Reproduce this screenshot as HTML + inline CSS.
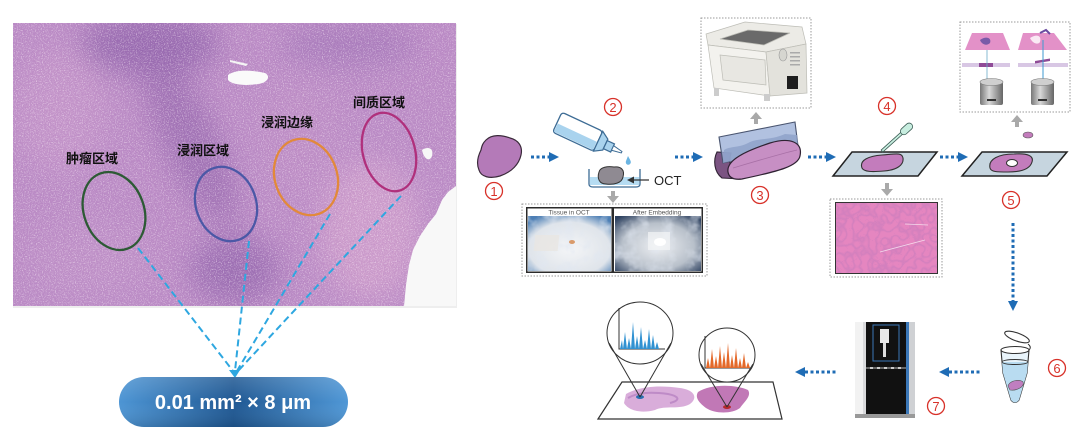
<!DOCTYPE html>
<html><head><meta charset="utf-8"><style>
html,body{margin:0;padding:0;background:#fff;width:1080px;height:429px;overflow:hidden}
svg{display:block}
.cn{font-family:"Liberation Sans","Noto Sans CJK SC",sans-serif;font-weight:bold;font-size:13px;fill:#111}
.num{font-family:"Liberation Sans",sans-serif;font-size:13px;fill:#d8322a;text-anchor:middle}
</style></head><body>
<svg width="1080" height="429" viewBox="0 0 1080 429" xmlns="http://www.w3.org/2000/svg">
<defs>
 <filter id="nW" x="0" y="0" width="100%" height="100%">
  <feTurbulence type="fractalNoise" baseFrequency="0.85" numOctaves="2" seed="4"/>
  <feColorMatrix type="matrix" values="0 0 0 0 1  0 0 0 0 0.9  0 0 0 0 0.98  3.2 0 0 0 -1.6"/>
 </filter>
 <filter id="nD" x="0" y="0" width="100%" height="100%">
  <feTurbulence type="fractalNoise" baseFrequency="0.9" numOctaves="2" seed="9"/>
  <feColorMatrix type="matrix" values="0 0 0 0 0.45  0 0 0 0 0.22  0 0 0 0 0.55  3 0 0 0 -1.45"/>
 </filter>
 <filter id="cells" x="0" y="0" width="100%" height="100%">
  <feTurbulence type="turbulence" baseFrequency="0.13" numOctaves="1" seed="2"/>
  <feColorMatrix type="matrix" values="0 0 0 0 0.55  0 0 0 0 0.2  0 0 0 0 0.5  -4 0 0 0 0.9"/>
 </filter>
 <filter id="snow" x="0" y="0" width="100%" height="100%">
  <feTurbulence type="fractalNoise" baseFrequency="0.08" numOctaves="3" seed="5"/>
  <feColorMatrix type="matrix" values="0 0 0 0 0.75  0 0 0 0 0.8  0 0 0 0 0.88  2.5 0 0 0 -1.1"/>
 </filter>
 <filter id="bl"><feGaussianBlur stdDeviation="14"/></filter>
 <linearGradient id="pillG" x1="0" y1="0" x2="1" y2="0">
  <stop offset="0" stop-color="#4d95d4"/><stop offset="0.5" stop-color="#1f5893"/><stop offset="1" stop-color="#4f97d6"/>
 </linearGradient>
 <linearGradient id="pillV" x1="0" y1="0" x2="0" y2="1">
  <stop offset="0" stop-color="#fff" stop-opacity="0.15"/><stop offset="0.5" stop-color="#fff" stop-opacity="0"/><stop offset="1" stop-color="#000" stop-opacity="0.12"/>
 </linearGradient>
 <radialGradient id="ph1" cx="0.5" cy="0.6" r="0.7">
  <stop offset="0" stop-color="#f4f5f7"/><stop offset="0.7" stop-color="#dfe4ea"/><stop offset="1" stop-color="#4d7fb5"/>
 </radialGradient>
 <radialGradient id="ph2" cx="0.5" cy="0.55" r="0.7">
  <stop offset="0" stop-color="#eef0f3"/><stop offset="0.6" stop-color="#b8c0ca"/><stop offset="1" stop-color="#2b3f5e"/>
 </radialGradient>
 <linearGradient id="cyl" x1="0" y1="0" x2="1" y2="0">
  <stop offset="0" stop-color="#777"/><stop offset="0.4" stop-color="#d8d8d8"/><stop offset="1" stop-color="#666"/>
 </linearGradient>
 <clipPath id="histo"><rect x="13" y="23" width="443" height="283"/></clipPath>
 <clipPath id="ph4"><rect x="836" y="203" width="101" height="70"/></clipPath>
</defs>

<!-- ================= LEFT: histology ================= -->
<rect x="13" y="24" width="444" height="284" fill="#ddd" opacity="0.5"/>
<g clip-path="url(#histo)">
 <rect x="13" y="23" width="443" height="283" fill="#bb8cc5"/>
 <g filter="url(#bl)">
  <ellipse cx="150" cy="45" rx="70" ry="30" fill="#8e62aa" opacity="0.8"/>
  <ellipse cx="190" cy="140" rx="28" ry="95" fill="#9466ad" opacity="0.7" transform="rotate(-25 190 140)"/>
  <ellipse cx="235" cy="270" rx="45" ry="35" fill="#8f62aa" opacity="0.7"/>
  <ellipse cx="350" cy="45" rx="70" ry="22" fill="#9c72b4" opacity="0.6"/>
  <ellipse cx="370" cy="230" rx="50" ry="70" fill="#d6a5cf" opacity="0.7"/>
  <ellipse cx="60" cy="110" rx="45" ry="60" fill="#c99bcc" opacity="0.6"/>
  <ellipse cx="90" cy="260" rx="60" ry="35" fill="#c495c9" opacity="0.5"/>
  <ellipse cx="300" cy="140" rx="40" ry="60" fill="#c292c6" opacity="0.5"/>
 </g>
 <rect x="13" y="23" width="443" height="283" filter="url(#nD)" opacity="0.5"/>
 <rect x="13" y="23" width="443" height="283" filter="url(#nW)" opacity="0.55"/>
 <!-- white areas -->
 <path d="M228,75 C236,69 252,70 265,73 C271,76 268,83 258,84 C246,86 232,85 228,80 Z" fill="#fafafa"/>
 <path d="M230,60 L248,64 L246,66 L230,62 Z" fill="#f4f4f4"/>
 <path d="M422,150 C428,146 434,148 432,156 C430,162 424,160 422,150 Z" fill="#f7f7f7"/>
 <path d="M456,186 L448,192 L442,200 L436,214 L428,224 L420,236 L413,250 L409,265 L406,285 L404,306 L456,306 Z" fill="#f8f8f8"/>
</g>

<!-- labels -->
<text class="cn" x="66" y="163">肿瘤区域</text>
<text class="cn" x="177" y="155">浸润区域</text>
<text class="cn" x="261" y="127">浸润边缘</text>
<text class="cn" x="353" y="107">间质区域</text>

<!-- ellipses -->
<g fill="none" stroke-width="2.3">
 <ellipse cx="114" cy="211" rx="30" ry="40" transform="rotate(-20 114 211)" stroke="#2d5a35"/>
 <ellipse cx="226" cy="204" rx="30" ry="38" transform="rotate(-20 226 204)" stroke="#4b58a6"/>
 <ellipse cx="306" cy="177" rx="31" ry="39" transform="rotate(-20 306 177)" stroke="#e2893a"/>
 <ellipse cx="389" cy="152" rx="26" ry="40" transform="rotate(-15 389 152)" stroke="#b0307c"/>
</g>

<!-- dashed connectors -->
<g stroke="#2ea7e0" stroke-width="2" stroke-dasharray="7 4" fill="none">
 <line x1="138" y1="248" x2="233" y2="371"/>
 <line x1="249" y1="241" x2="235" y2="371"/>
 <line x1="330" y1="214" x2="237" y2="371"/>
 <line x1="401" y1="196" x2="238" y2="371"/>
</g>
<polygon points="229,370 240,370 235,378" fill="#2ea7e0"/>

<!-- pill -->
<rect x="119" y="377" width="229" height="50" rx="25" fill="url(#pillG)"/>
<rect x="119" y="377" width="229" height="50" rx="25" fill="url(#pillV)"/>
<text x="233" y="409" text-anchor="middle" font-family="Liberation Sans,sans-serif" font-weight="bold" font-size="20" fill="#fff">0.01 mm² × 8 μm</text>

<!-- ================= RIGHT: workflow ================= -->
<g stroke="#1f6cb5" stroke-width="3" stroke-dasharray="3 2.5" fill="none">
 <line x1="531" y1="157" x2="549" y2="157"/>
 <line x1="675" y1="157" x2="693" y2="157"/>
 <line x1="808" y1="157" x2="826" y2="157"/>
 <line x1="940" y1="157" x2="958" y2="157"/>
 <line x1="1013" y1="223" x2="1013" y2="301"/>
 <line x1="949" y1="372" x2="982" y2="372"/>
 <line x1="805" y1="372" x2="837" y2="372"/>
</g>
<g fill="#1f6cb5">
 <polygon points="549,152 559,157 549,162"/>
 <polygon points="693,152 703,157 693,162"/>
 <polygon points="826,152 836,157 826,162"/>
 <polygon points="958,152 968,157 958,162"/>
 <polygon points="1008,301 1013,311 1018,301"/>
 <polygon points="949,367 939,372 949,377"/>
 <polygon points="805,367 795,372 805,377"/>
</g>

<g fill="#a9a9a9">
 <polygon points="611,191 615,191 615,196 619,196 613,203 607,196 611,196"/>
 <polygon points="754,124 758,124 758,119 762,119 756,112 750,119 754,119"/>
 <polygon points="885,183 889,183 889,189 893,189 887,196 881,189 885,189"/>
 <polygon points="1015,127 1019,127 1019,122 1023,122 1017,115 1011,122 1015,122"/>
</g>

<!-- step 1 -->
<path d="M486,140 C492,134 502,135 510,138 C518,140 523,146 521,155 C519,164 512,172 500,176 C490,179 481,177 479,170 C476,163 478,156 481,150 C482,145 483,143 486,140 Z" fill="#b47ab8" stroke="#3a2a3a" stroke-width="1.2"/>

<!-- step 2 bottle -->
<g transform="translate(589,137) rotate(25)">
 <rect x="-35" y="-11" width="45" height="22" rx="3" fill="#fff" stroke="#3d6c95" stroke-width="1.3"/>
 <path d="M-34,1 L9,1 L9,10 L-34,10 Z" fill="#a9d3ee"/>
 <polygon points="10,-11 18,-6 18,6 10,11" fill="#a9d3ee" stroke="#3d6c95" stroke-width="1.2"/>
 <rect x="18" y="-4.5" width="8" height="9" fill="#a9d3ee" stroke="#3d6c95" stroke-width="1.2"/>
 <polygon points="26,-2.5 36,-0.8 36,0.8 26,2.5" fill="#fff" stroke="#3d6c95" stroke-width="1"/>
</g>
<path d="M628,156 C630,160 632,162 630,164 C628,166 625,164 626,161 Z" fill="#6ab4e2"/>
<path d="M589,169 L589,184 Q589,187 593,187 L636,187 Q640,187 640,184 L640,169" fill="none" stroke="#3d6c95" stroke-width="1.3"/>
<rect x="590" y="177" width="49" height="8" fill="#b5dcf2"/>
<path d="M599,172 C600,167 608,166 614,167 C621,166 625,170 623,177 C622,183 614,185 606,184 C599,184 597,178 599,172 Z" fill="#8f8a92" stroke="#333" stroke-width="1"/>
<line x1="632" y1="180" x2="649" y2="180" stroke="#333" stroke-width="1.2"/>
<polygon points="627,180 634,176.5 634,183.5" fill="#333"/>
<text x="654" y="185" font-family="Liberation Sans,sans-serif" font-size="13" fill="#222">OCT</text>

<!-- photo box step 2 -->
<rect x="522" y="204" width="185" height="72" fill="#fff" stroke="#999" stroke-dasharray="1.5 1.5"/>
<rect x="526" y="207" width="177" height="66" fill="#2b2b2b"/>
<rect x="527.5" y="208.5" width="84" height="63" fill="#fff"/>
<rect x="614" y="208.5" width="87.5" height="63" fill="#fff"/>
<rect x="528" y="216" width="83" height="55" fill="url(#ph1)"/>
<rect x="528" y="216" width="83" height="55" filter="url(#snow)" opacity="0.7"/>
<rect x="560" y="235" width="24" height="16" fill="#e8e6e2" opacity="0.8" transform="skewX(-6)"/>
<ellipse cx="572" cy="242" rx="3" ry="2" fill="#d99a6a"/>
<rect x="615" y="216" width="86" height="55" fill="url(#ph2)"/>
<rect x="615" y="216" width="86" height="55" filter="url(#snow)" opacity="0.6"/>
<rect x="648" y="232" width="22" height="18" fill="#f3f5f7" opacity="0.7"/>
<ellipse cx="660" cy="242" rx="6" ry="4" fill="#fff"/>
<text x="569" y="214.5" text-anchor="middle" font-family="Liberation Sans,sans-serif" font-size="6.5" fill="#555">Tissue in OCT</text>
<text x="657" y="214.5" text-anchor="middle" font-family="Liberation Sans,sans-serif" font-size="6.5" fill="#555">After Embedding</text>

<!-- step 3 microtome -->
<rect x="701" y="18" width="110" height="90" fill="#fff" stroke="#999" stroke-dasharray="1.5 1.5"/>
<g stroke="#bdbdb6" stroke-width="0.7">
 <polygon points="706,34 745,22 802,27 806,44 766,52 708,45" fill="#ecebe6"/>
 <polygon points="720,39 748,30 790,33 764,45" fill="#6a6a6a"/>
 <polygon points="708,45 766,52 770,96 714,88" fill="#f3f2ee"/>
 <polygon points="766,52 806,44 807,93 770,96" fill="#e3e2dc"/>
 <polygon points="720,55 765,60 766,85 723,80" fill="#e8e7e2"/>
</g>
<rect x="787" y="76" width="11" height="13" fill="#1e1e1e"/>
<ellipse cx="783" cy="55" rx="4" ry="6" fill="#d6d6d0" stroke="#999" stroke-width="0.6"/>
<g fill="#aaa"><rect x="790" y="52" width="10" height="1.5"/><rect x="790" y="56" width="10" height="1.5"/><rect x="790" y="60" width="10" height="1.5"/><rect x="790" y="64" width="10" height="1.5"/></g>
<rect x="714" y="88" width="5" height="8" fill="#ccc"/>
<rect x="764" y="94" width="6" height="7" fill="#ccc"/>
<!-- block 3 -->
<path d="M717,152 C713,160 714,172 722,178 L741,179 C731,174 728,164 731,153 Z" fill="#7b5482" stroke="#2f2233" stroke-width="1.1"/>
<polygon points="719,137 795,122 798,146 723,163" fill="#9db2d8" fill-opacity="0.8" stroke="#4a5570" stroke-width="1.1"/>
<path d="M724,150 C730,146 740,148 750,142 C760,138 772,140 785,134 L797,135 L798,146 L723,163 Z" fill="#8da0c8" opacity="0.8"/>
<path d="M728,172 C726,160 746,151 770,143 C790,137 803,142 800,156 C798,166 780,171 742,179 C734,180 729,178 728,172 Z" fill="#c78fc4" stroke="#2f2233" stroke-width="1.2"/>
<path d="M733,168 C760,160 780,154 797,150" fill="none" stroke="#a870a6" stroke-width="0.8"/>

<!-- step 4 -->
<polygon points="833,176 852,152 937,152 918,176" fill="#c6d5df" stroke="#222" stroke-width="1.5"/>
<path d="M862,168 C859,160 869,156 882,155 C895,154 902,152 903,158 C904,165 897,170 884,171 C872,172 864,172 862,168 Z" fill="#c37cbc" stroke="#333" stroke-width="1.1"/>
<g transform="translate(882,151) rotate(-42)">
 <rect x="0" y="-1.3" width="28" height="2.6" fill="#c8eee0" stroke="#3c5d55" stroke-width="0.8"/>
 <rect x="26" y="-3.5" width="14" height="7" rx="3.5" fill="#c8eee0" stroke="#3c5d55" stroke-width="0.8"/>
</g>
<rect x="830" y="199" width="112" height="78" fill="#fff" stroke="#999" stroke-dasharray="1.5 1.5"/>
<rect x="835" y="202" width="103" height="72" fill="#333"/>
<g clip-path="url(#ph4)">
 <rect x="836" y="203" width="101" height="70" fill="#e586c0"/>
 <rect x="836" y="203" width="101" height="70" filter="url(#cells)" opacity="0.6"/>
 <line x1="880" y1="252" x2="925" y2="240" stroke="#fff" stroke-width="0.8" opacity="0.7"/>
 <line x1="905" y1="224" x2="928" y2="225" stroke="#fff" stroke-width="0.8" opacity="0.7"/>
</g>

<!-- step 5 -->
<polygon points="962,176 982,152 1067,152 1047,176" fill="#c6d5df" stroke="#222" stroke-width="1.5"/>
<path d="M990,168 C988,159 999,154 1014,154 C1028,153 1034,156 1032,162 C1030,169 1022,172 1008,172 C997,172 991,172 990,168 Z" fill="#c37cbc" stroke="#333" stroke-width="1.1"/>
<ellipse cx="1012" cy="163" rx="5.5" ry="3.5" fill="#fff" stroke="#333" stroke-width="1"/>
<ellipse cx="1028" cy="135" rx="5" ry="3" fill="#c37cbc" stroke="#555" stroke-width="0.6"/>
<rect x="960" y="22" width="110" height="90" fill="#fff" stroke="#999" stroke-dasharray="1.5 1.5"/>
<polygon points="972,33 1003,33 1010,50 965,50" fill="#e391c8"/>
<polygon points="1023,33 1054,33 1067,50 1018,50" fill="#e391c8"/>
<path d="M980,40 C985,36 992,37 990,43 C987,46 982,45 980,40 Z" fill="#7a5aa8"/>
<path d="M1030,38 C1036,34 1042,35 1040,42 C1038,45 1033,44 1030,38 Z" fill="#fff" opacity="0.8"/>
<path d="M1040,33 L1046,30 L1050,34" fill="none" stroke="#6a4aa0" stroke-width="2"/>
<rect x="962" y="63" width="48" height="4" fill="#d8c7e4"/>
<rect x="979" y="63" width="14" height="4" fill="#8f4b97"/>
<rect x="1018" y="63" width="50" height="4" fill="#d8c7e4"/>
<polygon points="1035,61 1050,58.5 1050,61 1035,63.5" fill="#8f4b97"/>
<line x1="987" y1="50" x2="987" y2="80" stroke="#6aaac8" stroke-width="0.8"/>
<line x1="1043" y1="40" x2="1043" y2="80" stroke="#3e9ad0" stroke-width="1"/>
<rect x="980" y="82" width="23" height="23" rx="2" fill="url(#cyl)"/>
<ellipse cx="991.5" cy="82" rx="11.5" ry="3.5" fill="#cfcfcf" stroke="#777" stroke-width="0.6"/>
<rect x="1031" y="82" width="23" height="23" rx="2" fill="url(#cyl)"/>
<ellipse cx="1042.5" cy="82" rx="11.5" ry="3.5" fill="#cfcfcf" stroke="#777" stroke-width="0.6"/>
<rect x="987" y="99" width="9" height="2" fill="#333"/>
<rect x="1038" y="99" width="9" height="2" fill="#333"/>

<!-- step 6 tube -->
<path d="M1001,350 L1003,373 L1011,400 Q1015,405 1019,400 L1027,373 L1029,350 Z" fill="#e9f4fb" stroke="#333" stroke-width="1.1"/>
<path d="M1002,362 L1003,373 L1011,400 Q1015,405 1019,400 L1027,373 L1028,362 Z" fill="#b9dcf1"/>
<ellipse cx="1015" cy="362" rx="13" ry="2.5" fill="none" stroke="#333" stroke-width="0.9"/>
<path d="M1008,386 C1010,380 1020,379 1023,382 C1025,387 1016,391 1010,390 Z" fill="#c07ec0" stroke="#555" stroke-width="0.6"/>
<ellipse cx="1015" cy="350" rx="14" ry="3.5" fill="#fff" stroke="#333" stroke-width="1.1"/>
<ellipse cx="1017" cy="337" rx="13" ry="4" transform="rotate(20 1017 337)" fill="#fff" stroke="#333" stroke-width="1.1"/>
<path d="M1028,344 Q1032,347 1029,350" fill="none" stroke="#333" stroke-width="1"/>

<!-- step 7 mass spec -->
<rect x="855" y="322" width="60" height="96" fill="#d9dadc"/>
<rect x="855" y="322" width="8" height="96" fill="#f2f2f2"/>
<rect x="866" y="322" width="40" height="96" fill="#111"/>
<rect x="906" y="322" width="3" height="96" fill="#3c78b8"/>
<rect x="909" y="322" width="6" height="96" fill="#cfd1d4"/>
<rect x="873" y="325" width="26" height="36" fill="none" stroke="#3c78b8" stroke-width="1"/>
<rect x="880" y="329" width="9" height="14" fill="#e8e8e8"/>
<rect x="883" y="343" width="3" height="14" fill="#ddd"/>
<rect x="866" y="367" width="40" height="2" fill="#666"/>
<g fill="#ccc"><rect x="870" y="367" width="3" height="2"/><rect x="877" y="367" width="3" height="2"/><rect x="884" y="367" width="3" height="2"/><rect x="891" y="367" width="3" height="2"/><rect x="898" y="367" width="3" height="2"/></g>
<rect x="855" y="414" width="60" height="4" fill="#999"/>

<!-- result slide -->
<polygon points="598,419 622,382 773,382 782,419" fill="#fff" stroke="#333" stroke-width="1.2"/>
<path d="M626,394 C640,386 660,385 680,388 C695,390 698,398 690,404 C680,410 665,405 655,410 C640,414 628,410 624,403 Z" fill="#d5a4d6" opacity="0.9"/>
<path d="M628,398 C638,392 652,392 668,394 C678,396 682,400 670,403" fill="none" stroke="#a46ab4" stroke-width="2" opacity="0.5"/>
<path d="M698,392 C710,384 735,384 748,390 C752,396 744,402 740,408 C732,414 715,414 706,408 C698,402 695,397 698,392 Z" fill="#c178b6"/>
<ellipse cx="640" cy="397" rx="4" ry="2" fill="#2a6fb0"/>
<ellipse cx="727" cy="407" rx="4" ry="2" fill="#b5282c"/>
<g fill="#fff" stroke="#333" stroke-width="1">
 <ellipse cx="640" cy="333" rx="33" ry="31"/>
 <ellipse cx="727" cy="355" rx="28" ry="27"/>
</g>
<g stroke="#333" stroke-width="1" fill="none">
 <line x1="609" y1="343" x2="640" y2="397"/>
 <line x1="671" y1="343" x2="640" y2="397"/>
 <line x1="701" y1="364" x2="727" y2="407"/>
 <line x1="753" y1="364" x2="727" y2="407"/>
 <polyline points="619,308 619,349 665,349"/>
 <polyline points="705,336 705,368 752,368"/>
</g>
<path d="M620,349 L622,340 L623,349 L625,332 L627,349 L629,338 L631,349 L633,322 L635,349 L637,336 L639,349 L641,327 L643,349 L645,340 L647,349 L649,329 L651,349 L653,335 L655,349 L657,342 L659,349 Z" fill="#3192d2"/>
<path d="M706,368 L708,358 L710,368 L712,349 L714,368 L716,356 L718,368 L720,346 L722,368 L724,352 L726,368 L728,343 L730,368 L732,355 L734,368 L736,348 L738,368 L740,358 L742,368 L744,353 L746,368 L748,362 L750,368 Z" fill="#e4692a"/>

<!-- circled numbers -->
<g fill="none" stroke="#d8322a" stroke-width="1.3">
 <circle cx="494" cy="191" r="8.5"/>
 <circle cx="613" cy="107" r="8.5"/>
 <circle cx="760" cy="195" r="8.5"/>
 <circle cx="887" cy="106" r="8.5"/>
 <circle cx="1011" cy="200" r="8.5"/>
 <circle cx="1057" cy="368" r="8.5"/>
 <circle cx="936" cy="406" r="8.5"/>
</g>
<text class="num" x="494" y="196">1</text>
<text class="num" x="613" y="112">2</text>
<text class="num" x="760" y="200">3</text>
<text class="num" x="887" y="111">4</text>
<text class="num" x="1011" y="205">5</text>
<text class="num" x="1057" y="373">6</text>
<text class="num" x="936" y="411">7</text>
</svg>
</body></html>
